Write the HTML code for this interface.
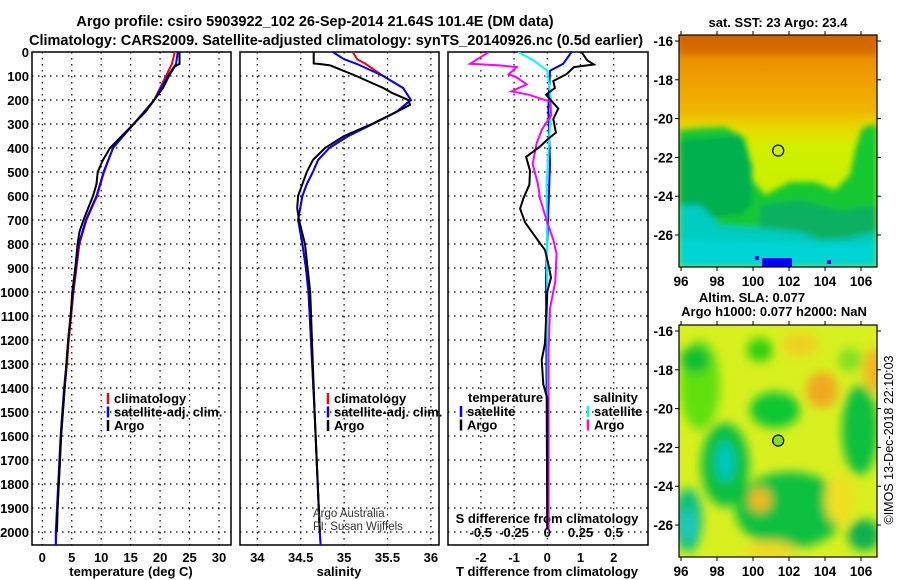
<!DOCTYPE html>
<html><head><meta charset="utf-8"><style>
html,body{margin:0;padding:0;background:#fff;}
svg{display:block;font-family:"Liberation Sans",Arial,sans-serif;}
.b{font-weight:bold;}
</style></head><body>
<svg id="chart" width="900" height="580" viewBox="0 0 900 580" xmlns="http://www.w3.org/2000/svg">
<defs>
<clipPath id="c1"><rect x="32" y="52" width="199" height="493"/></clipPath>
<clipPath id="c2"><rect x="240" y="52" width="199" height="493"/></clipPath>
<clipPath id="c3"><rect x="448" y="52" width="200" height="493"/></clipPath>
<clipPath id="cm1"><rect x="679" y="35" width="198" height="232"/></clipPath>
<clipPath id="cm2"><rect x="679" y="325" width="198" height="232"/></clipPath>
<filter id="bl" x="-50%" y="-50%" width="200%" height="200%"><feGaussianBlur stdDeviation="5"/></filter>
<filter id="bl2" x="-50%" y="-50%" width="200%" height="200%"><feGaussianBlur stdDeviation="3"/></filter>
<linearGradient id="sstg" x1="0" y1="0" x2="0" y2="1">
<stop offset="0" stop-color="#d86a00"/><stop offset="0.08" stop-color="#ea8c00"/><stop offset="0.2" stop-color="#f0a000"/>
<stop offset="0.32" stop-color="#f0b400"/><stop offset="0.4" stop-color="#e8d800"/><stop offset="0.48" stop-color="#d0f000"/>
<stop offset="1" stop-color="#c0ec00"/></linearGradient>
</defs>
<g class="b" font-size="14.5" text-anchor="middle">
<text x="315" y="26">Argo profile: csiro 5903922_102 26-Sep-2014 21.64S 101.4E (DM data)</text>
<text x="336" y="45">Climatology: CARS2009. Satellite-adjusted climatology: synTS_20140926.nc (0.5d earlier)</text>
</g>
<g id="panels"></g>
<g id="maps"></g>
</svg>
<script>
// ---- data ----
const depthTicks=[0,100,200,300,400,500,600,700,800,900,1000,1100,1200,1300,1400,1500,1600,1700,1800,1900,2000];
const tempTicks=[0,5,10,15,20,25,30];
const salTicks=[34,34.5,35,35.5,36];
const sal2Labels=['34','34.5','35','35.5','36'];
const tdiffTicks=[-2,-1,0,1,2];
const sdiffTicks=[-0.5,-0.25,0,0.25,0.5];
const sdiffLabels=['-0.5','-0.25','0','0.25','0.5'];

const tArgoDepth=[0,50,60,100,150,200,250,300,350,400,450,500,550,600,650,700,750,800,900,1000,1100,1200,1300,1400,1500,1600,1700,1800,1900,2000];
const tArgo=[23.3,23.3,22.5,21.5,20.5,19,17.5,15.5,13.5,11.5,10.3,9.4,9.2,8.6,7.8,7,6.3,6,5.6,5.1,4.8,4.4,4.1,3.8,3.5,3.2,3.0,2.8,2.6,2.5];
const tClimDepth=[0,50,100,200,300,400,500,600,700,800,900,1000,1100,1200,1300,1400,1500,1600,1700,1800,1900,2000,2060];
const tClim=[22.5,22,21,19,15.5,12,10.5,9.3,7.5,6.3,5.8,5.3,4.9,4.5,4.2,3.8,3.5,3.2,3.0,2.8,2.6,2.4,2.3];
const tSat=[23,22.7,21.3,19,15.5,12,10.4,9.2,7.4,6.2,5.7,5.2,4.8,4.4,4.1,3.7,3.4,3.1,2.9,2.7,2.5,2.3,2.3];

const sArgoDepth=[0,48,50,56,100,150,170,200,220,250,300,350,400,450,500,550,600,650,700,800,900,1000,1500,2000];
const sArgo=[34.65,34.65,34.72,34.84,35.14,35.45,35.55,35.74,35.76,35.6,35.32,35.0,34.78,34.64,34.57,34.52,34.47,34.46,34.48,34.55,34.58,34.61,34.66,34.72];
const sClimDepth=[0,30,50,100,150,200,250,300,350,400,450,500,550,600,700,800,900,1000,1500,2000,2060];
const sClim=[35.1,35.15,35.25,35.45,35.68,35.77,35.6,35.33,35.05,34.83,34.7,34.64,34.57,34.52,34.47,34.52,34.56,34.59,34.66,34.72,34.73];
const sSat=[34.87,35.0,35.15,35.45,35.68,35.77,35.6,35.33,35.05,34.83,34.7,34.64,34.57,34.52,34.47,34.52,34.56,34.59,34.66,34.72,34.73];

const dTArgoDepth=[0,34,52,63,92,121,150,178,236,279,336,365,394,437,495,552,610,653,710,768,825,883,940,998,1213,1284,1385,1443,1989];
const dTArgo=[1.03,1.2,1.4,0.8,0.58,0.18,0.23,-0.04,0.33,0.18,0.26,0,-0.22,-0.64,-0.52,-0.54,-0.72,-0.82,-0.67,-0.37,-0.07,0.03,0.11,0,-0.07,-0.17,-0.12,0,0];
const dTSatDepth=[0,49,78,236,466,940,1989];
const dTSat=[0.73,0.48,0.08,0.03,0.08,-0.04,0];
const dSArgoDepth=[0,49,56,63,92,106,135,164,178,207,264,322,380,466,552,610,710,782,840,955,1070,1242,1530,1989];
const dSArgo=[-0.44,-0.58,-0.36,-0.23,-0.29,-0.23,-0.155,-0.27,-0.14,0.02,0.03,-0.04,-0.08,-0.11,-0.07,-0.055,0,0.045,0.07,0.06,0.02,0.01,0.01,0.01];
const dSSatDepth=[0,34,78,207,552,1989];
const dSSat=[-0.22,-0.105,0,0.03,-0.005,0.01];

// ---- scales ----
const Y0=52,Y1=545,X1a=32,X1b=231,X2a=240,X2b=439,X3a=448,X3b=648;
const yD=d=>Y0+d*0.24;
const xT=t=>42.3+t*5.89;
const xS=s=>257.3+(s-34)*86.8;
const xTd=v=>547.3+v*33.2;
const xSd=v=>547.3+v*133;

const NS='http://www.w3.org/2000/svg';
const root=document.getElementById('panels');
function mk(tag,attrs,parent){const e=document.createElementNS(NS,tag);for(const k in attrs)e.setAttribute(k,attrs[k]);(parent||root).appendChild(e);return e;}
function txt(x,y,s,attrs,parent){const e=mk('text',Object.assign({x:x,y:y},attrs||{}),parent);e.textContent=s;return e;}
function line(xs,ds,xf,color,clip,name){
  const pts=xs.map((v,i)=>xf(v).toFixed(1)+','+yD(ds[i]).toFixed(1)).join(' ');
  const p=mk('polyline',{points:pts,fill:'none',stroke:color,'stroke-width':2,'clip-path':'url(#'+clip+')'});
  
  
  return p;
}
function panel(xa,xb,clip,name,vx){
  const g=mk('g',{});
  
  
  depthTicks.forEach(d=>{if(d>0)mk('line',{x1:xa,x2:xb,y1:yD(d),y2:yD(d),stroke:'#000','stroke-width':1.2,'stroke-dasharray':'1.5,4.5'},g);});
  vx.forEach(x=>mk('line',{x1:x,x2:x,y1:Y0,y2:Y1,stroke:'#000','stroke-width':1.2,'stroke-dasharray':'1.5,4.5'},g));
  mk('rect',{x:xa,y:Y0,width:xb-xa,height:Y1-Y0,fill:'none',stroke:'#000','stroke-width':1.5},g);
  return g;
}
const XL=562, XT=576;
// panel 1
panel(X1a,X1b,'c1','temperature-panel',tempTicks.map(xT));
const yl=mk('g',{'class':'b','font-size':13,'text-anchor':'end'});


depthTicks.forEach(d=>txt(29,yD(d)+5,String(d),{},yl));
tempTicks.forEach(t=>txt(xT(t),XL,String(t),{'class':'b','font-size':13,'text-anchor':'middle'}));
txt(131,XT,'temperature (deg C)',{'class':'b','font-size':13,'text-anchor':'middle'});
line(tClim,tClimDepth,xT,'#ff0000','c1','temp-climatology-line');
line(tSat,tClimDepth,xT,'#0000ff','c1','temp-satellite-line');
line(tArgo,tArgoDepth,xT,'#000000','c1','temp-argo-line');
function legend(x,y,items,name){
  const g=mk('g',{'class':'b','font-size':13});
  
  
  items.forEach((it,i)=>{
    mk('line',{x1:x,x2:x,y1:y+i*13.5-10,y2:y+i*13.5+1,stroke:it[0],'stroke-width':2.5},g);
    txt(x+6,y+i*13.5,it[1],{},g);
  });
}
legend(108,403,[['#ff0000','climatology'],['#0000ff','satellite-adj. clim.'],['#000','Argo']],'temp-legend');
// panel 2
panel(X2a,X2b,'c2','salinity-panel',salTicks.map(xS));
salTicks.forEach((s,i)=>txt(xS(s),XL,sal2Labels[i],{'class':'b','font-size':13,'text-anchor':'middle'}));
txt(339,XT,'salinity',{'class':'b','font-size':13,'text-anchor':'middle'});
line(sClim,sClimDepth,xS,'#ff0000','c2','sal-climatology-line');
line(sSat,sClimDepth,xS,'#0000ff','c2','sal-satellite-line');
line(sArgo,sArgoDepth,xS,'#000000','c2','sal-argo-line');
legend(328,403,[['#ff0000','climatology'],['#0000ff','satellite-adj. clim.'],['#000','Argo']],'sal-legend');
txt(313,517,'Argo Australia',{'font-size':11.5,fill:'#333'});
txt(313,530,'PI: Susan Wijffels',{'font-size':11.5,fill:'#333'});
// panel 3
panel(X3a,X3b,'c3','difference-panel',tdiffTicks.map(xTd));
tdiffTicks.forEach(t=>txt(xTd(t),XL,String(t),{'class':'b','font-size':13,'text-anchor':'middle'}));
txt(547,XT,'T difference from climatology',{'class':'b','font-size':13,'text-anchor':'middle'});
sdiffTicks.forEach((s,i)=>txt(xSd(s),537,sdiffLabels[i],{'class':'b','font-size':13,'text-anchor':'middle'}));
txt(547,523,'S difference from climatology',{'class':'b','font-size':13,'text-anchor':'middle'});
line(dTSat,dTSatDepth,xTd,'#0000ff','c3','tdiff-satellite-line');
line(dSSat,dSSatDepth,xSd,'#00ffff','c3','sdiff-satellite-line');
line(dSArgo,dSArgoDepth,xSd,'#ff00ff','c3','sdiff-argo-line');
line(dTArgo,dTArgoDepth,xTd,'#000000','c3','tdiff-argo-line');
txt(468,402,'temperature',{'class':'b','font-size':13});
legend(461,416,[['#0000ff','satellite'],['#000','Argo']],'tdiff-legend');
txt(593,402,'salinity',{'class':'b','font-size':13});
legend(588,416,[['#00ffff','satellite'],['#ff00ff','Argo']],'sdiff-legend');

// ---- maps ----
const lonTicks=[96,98,100,102,104,106];
const latTicks=[-16,-18,-20,-22,-24,-26];
const argoLon=101.4, argoLat=-21.65;
const mroot=document.getElementById('maps');
const lx=l=>681+(l-96)*18;
function mapAxes(top,name){
  const ly=l=>top+6+(-16-l)*19.4;
  const g=mk('g',{},mroot);
  
  
  return {g:g,ly:ly};
}
function finishMap(m,top,name){
  const g=mk('g',{},mroot);
  
  
  mk('rect',{x:679,y:top,width:198,height:232,fill:'none',stroke:'#000','stroke-width':1.2},g);
  lonTicks.forEach(l=>{mk('line',{x1:lx(l),x2:lx(l),y1:top+232,y2:top+236,stroke:'#000'},g);mk('line',{x1:lx(l),x2:lx(l),y1:top,y2:top-4,stroke:'#000'},g);
    txt(lx(l),top+251,String(l),{'class':'b','font-size':13.5,'text-anchor':'middle'},g);});
  latTicks.forEach(l=>{mk('line',{x1:675,x2:679,y1:m.ly(l),y2:m.ly(l),stroke:'#000'},g);mk('line',{x1:877,x2:881,y1:m.ly(l),y2:m.ly(l),stroke:'#000'},g);
    txt(673,m.ly(l)+5,String(l),{'class':'b','font-size':13.5,'text-anchor':'end'},g);});
}
// SST map
const m1=mapAxes(35,'sst-map');
const s1=mk('g',{'clip-path':'url(#cm1)'},m1.g);
mk('rect',{x:679,y:35,width:198,height:232,fill:'url(#sstg)'},s1);
const b1=mk('g',{filter:'url(#bl2)'},s1);
mk('path',{d:'M679,130 L700,128 L725,127 L745,138 L750,160 L752,180 L765,195 L790,182 L815,182 L835,190 L850,175 L855,150 L862,128 L877,124 L877,267 L679,267 Z',fill:'#18c830'},b1);
mk('path',{d:'M679,140 L740,135 L752,165 L752,205 L740,215 L679,220 Z',fill:'#00b050'},b1);
mk('path',{d:'M760,205 L800,200 L840,210 L877,205 L877,240 L760,240 Z',fill:'#08b060'},b1);
mk('path',{d:'M679,205 L700,205 L720,225 L760,228 L800,232 L820,240 L850,238 L877,232 L877,267 L679,267 Z',fill:'#00ccc0'},b1);
mk('path',{d:'M679,240 L877,245 L877,267 L679,267 Z',fill:'#00d4d4'},b1);
mk('path',{d:'M679,35 L877,35 L877,55 L679,55 Z',fill:'#c85800',opacity:0.5},b1);
mk('rect',{x:762,y:258,width:30,height:9,fill:'#0000ff'},s1);
mk('rect',{x:755,y:256,width:4,height:4,fill:'#0000ff'},s1);
mk('rect',{x:827,y:260,width:4,height:4,fill:'#0000ff'},s1);
mk('circle',{cx:lx(argoLon),cy:m1.ly(argoLat),r:5.5,fill:'none',stroke:'#000','stroke-width':1.2},m1.g);
txt(778,27,'sat. SST: 23 Argo: 23.4',{'class':'b','font-size':13,'text-anchor':'middle'},m1.g);
finishMap(m1,35,'sst-map');
// SLA map
const m2=mapAxes(325,'sla-map');
const s2=mk('g',{'clip-path':'url(#cm2)'},m2.g);
mk('rect',{x:679,y:325,width:198,height:232,fill:'#d8f020'},s2);
const b2=mk('g',{filter:'url(#bl)'},s2);
const slaBlobs=[[700,385,20,45,'#60e010'],[695,360,15,14,'#10c030'],[760,350,13,12,'#30d010'],[775,410,25,18,'#10c830'],[725,465,24,42,'#10c040'],[725,462,9,20,'#00c8c0'],[688,520,14,32,'#10c080'],[688,525,8,16,'#20c8c0'],[790,510,55,38,'#10c040'],[860,430,18,45,'#10c040'],[864,535,16,16,'#10b050'],[822,390,16,18,'#f0a820'],[875,370,12,22,'#f0b820'],[800,345,18,12,'#f0d020'],[760,500,11,12,'#f0b820'],[770,550,25,9,'#f0d820'],[840,500,15,25,'#f0e020'],[850,360,12,12,'#80e020']];
slaBlobs.forEach(b=>mk('ellipse',{cx:b[0],cy:b[1],rx:b[2],ry:b[3],fill:b[4]},b2));
mk('circle',{cx:lx(argoLon),cy:m2.ly(argoLat),r:5.5,fill:'#80e020',stroke:'#000','stroke-width':1.2},m2.g);
txt(752,302,'Altim. SLA: 0.077',{'class':'b','font-size':13,'text-anchor':'middle'},m2.g);
txt(774,316,'Argo h1000: 0.077 h2000: NaN',{'class':'b','font-size':13,'text-anchor':'middle'},m2.g);
finishMap(m2,325,'sla-map');
const cr=txt(0,0,'©IMOS 13-Dec-2018 22:10:03',{'font-size':12.5,transform:'translate(893,440) rotate(-90)','text-anchor':'middle'},mroot);


</script>
</body></html>
